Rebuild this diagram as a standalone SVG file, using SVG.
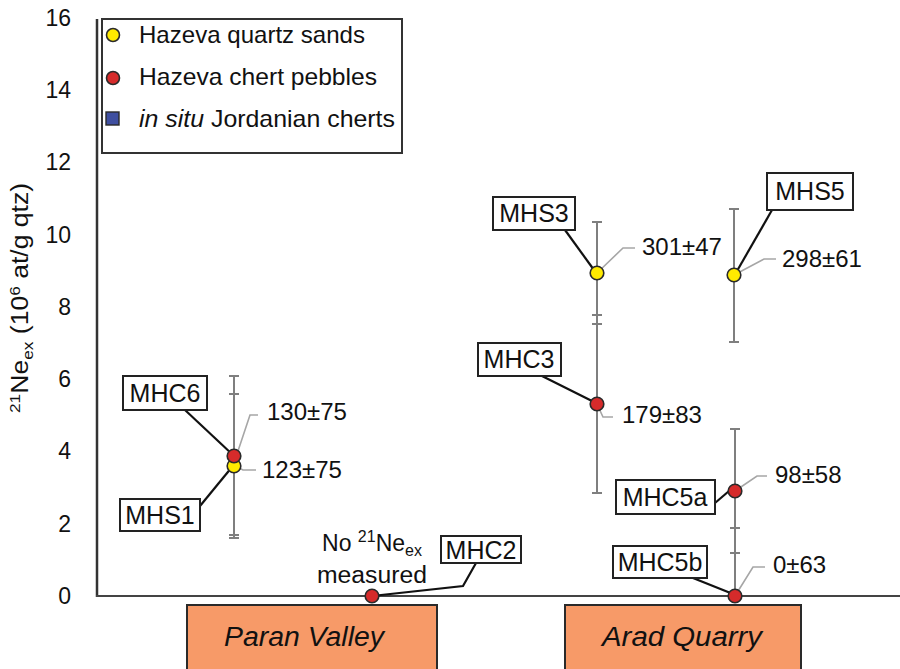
<svg xmlns="http://www.w3.org/2000/svg" width="900" height="669" viewBox="0 0 900 669">
<style>
text{font-family:"Liberation Sans",Arial,sans-serif;fill:#111}
.tick{font-size:23px;text-anchor:end}
.lab{font-size:24px}
.bl{font-size:25px;text-anchor:middle}
.val{font-size:24px}
.box{fill:#fff;stroke:#222;stroke-width:2}
.eb{stroke:#7f7f7f;stroke-width:2;fill:none}
.lead{stroke:#a6a6a6;stroke-width:1.6;fill:none}
.con{stroke:#111;stroke-width:2.2;fill:none}
.yel{fill:#ffea00;stroke:#2a2a2a;stroke-width:1.6}
.red{fill:#d62b2b;stroke:#2a2a2a;stroke-width:1.6}
.cat{fill:#f79a68;stroke:#2a2a2a;stroke-width:2}
.catt{font-size:27px;font-style:italic;text-anchor:middle}
</style>
<rect width="900" height="669" fill="#fff"/>
<g id="axes">
<line x1="97" y1="19" x2="97" y2="597" stroke="#333" stroke-width="2.5"/>
<line x1="96" y1="596" x2="900" y2="596" stroke="#444" stroke-width="2.2"/>
<text class="tick" x="71" y="26">16</text>
<text class="tick" x="71" y="98">14</text>
<text class="tick" x="71" y="170">12</text>
<text class="tick" x="71" y="243">10</text>
<text class="tick" x="71" y="315">8</text>
<text class="tick" x="71" y="387">6</text>
<text class="tick" x="71" y="459">4</text>
<text class="tick" x="71" y="532">2</text>
<text class="tick" x="71" y="604">0</text>
<text transform="translate(28,298) rotate(-90)" text-anchor="middle" font-size="23" textLength="230" lengthAdjust="spacingAndGlyphs"><tspan font-size="15" dy="-8">21</tspan><tspan dy="8">Ne</tspan><tspan font-size="15" dy="5">ex</tspan><tspan dy="-5"> (10</tspan><tspan font-size="15" dy="-8">6</tspan><tspan dy="8"> at/g qtz)</tspan></text>
</g>
<g id="legend">
<rect x="102" y="19" width="300" height="134" fill="#fff" stroke="#333" stroke-width="2"/>
<circle class="yel" cx="113" cy="35" r="6.5"/>
<circle class="red" cx="113" cy="78" r="6.5"/>
<rect x="106" y="112" width="13" height="13" fill="#3f4fa0" stroke="#2a2a2a" stroke-width="1.4"/>
<text class="lab" x="139" y="43" textLength="226" lengthAdjust="spacingAndGlyphs">Hazeva quartz sands</text>
<text class="lab" x="139" y="85" textLength="238" lengthAdjust="spacingAndGlyphs">Hazeva chert pebbles</text>
<text class="lab" x="139" y="127" textLength="256" lengthAdjust="spacingAndGlyphs"><tspan font-style="italic">in situ</tspan> Jordanian cherts</text>
</g>
<g id="errorbars">
<path class="eb" d="M234 376V535M229 376H239M229 535H239"/>
<path class="eb" d="M234 394V538M229 394H239M229 538H239"/>
<path class="eb" d="M597 222V324M592 222H602M592 324H602"/>
<path class="eb" d="M597 315V493M592 315H602M592 493H602"/>
<path class="eb" d="M734 209V342M729 209H739M729 342H739"/>
<path class="eb" d="M735 429V553M730 429H740M730 553H740"/>
<path class="eb" d="M735 528V600M730 528H740"/>
</g>
<g id="connectors">
<path class="lead" d="M236 457L250 415H258"/>
<path class="lead" d="M235 466L243 470H256"/>
<path class="lead" d="M597 273L623 248H635"/>
<path class="lead" d="M734 275L764 259H776"/>
<path class="lead" d="M597 404L603 417H613"/>
<path class="lead" d="M735 491L757 476H767"/>
<path class="lead" d="M735 596L753 567H765"/>
<path class="con" d="M185 410L233 455"/>
<path class="con" d="M200 506L232 467"/>
<path class="con" d="M372 596L463 586L476 563"/>
<path class="con" d="M565 230L594 270"/>
<path class="con" d="M772 210L737 271"/>
<path class="con" d="M542 376L594 402"/>
<path class="con" d="M715 503L729 491"/>
<path class="con" d="M693 578L733 594"/>
</g>
<g id="MHS1"><circle class="yel" cx="234" cy="466" r="6.8"/><text class="val" x="262" y="478">123±75</text></g>
<g id="MHC6"><circle class="red" cx="234" cy="456" r="6.8"/><text class="val" x="267" y="420">130±75</text></g>
<g id="MHC2"><circle class="red" cx="372" cy="596" r="6.8"/></g>
<g id="MHS3"><circle class="yel" cx="597" cy="273" r="6.8"/><text class="val" x="642" y="255">301±47</text></g>
<g id="MHS5"><circle class="yel" cx="734" cy="275" r="6.8"/><text class="val" x="782" y="267">298±61</text></g>
<g id="MHC3"><circle class="red" cx="597" cy="404" r="6.8"/><text class="val" x="622" y="423">179±83</text></g>
<g id="MHC5a"><circle class="red" cx="735" cy="491" r="6.8"/><text class="val" x="775" y="483">98±58</text></g>
<g id="MHC5b"><circle class="red" cx="735" cy="596" r="6.8"/><text class="val" x="773" y="573">0±63</text></g>
<g id="note-no-ne">
<text x="372" y="551" font-size="23" text-anchor="middle">No <tspan font-size="16" dy="-9">21</tspan><tspan dy="9">Ne</tspan><tspan font-size="16" dy="5">ex</tspan></text>
<text x="372" y="583" font-size="23" text-anchor="middle" textLength="110" lengthAdjust="spacingAndGlyphs">measured</text>
</g>
<g id="label-MHC6"><rect class="box" x="123" y="376" width="84" height="34"/><text class="bl" x="165" y="402">MHC6</text></g>
<g id="label-MHS1"><rect class="box" x="120" y="499" width="80" height="32"/><text class="bl" x="160" y="524">MHS1</text></g>
<g id="label-MHC2"><rect class="box" x="441" y="536" width="80" height="27"/><text class="bl" x="481" y="559">MHC2</text></g>
<g id="label-MHS3"><rect class="box" x="493" y="197" width="82" height="33"/><text class="bl" x="534" y="222">MHS3</text></g>
<g id="label-MHS5"><rect class="box" x="767" y="173" width="86" height="37"/><text class="bl" x="810" y="200">MHS5</text></g>
<g id="label-MHC3"><rect class="box" x="478" y="343" width="83" height="33"/><text class="bl" x="519" y="368">MHC3</text></g>
<g id="label-MHC5a"><rect class="box" x="616" y="480" width="99" height="34"/><text class="bl" x="665" y="506">MHC5a</text></g>
<g id="label-MHC5b"><rect class="box" x="613" y="546" width="94" height="32"/><text class="bl" x="660" y="571">MHC5b</text></g>
<g id="cat-paran"><rect class="cat" x="187" y="605" width="250" height="80"/><text class="catt" x="304" y="646" textLength="160" lengthAdjust="spacingAndGlyphs">Paran Valley</text></g>
<g id="cat-arad"><rect class="cat" x="565" y="605" width="236" height="80"/><text class="catt" x="682" y="646" textLength="160" lengthAdjust="spacingAndGlyphs">Arad Quarry</text></g>
</svg>
